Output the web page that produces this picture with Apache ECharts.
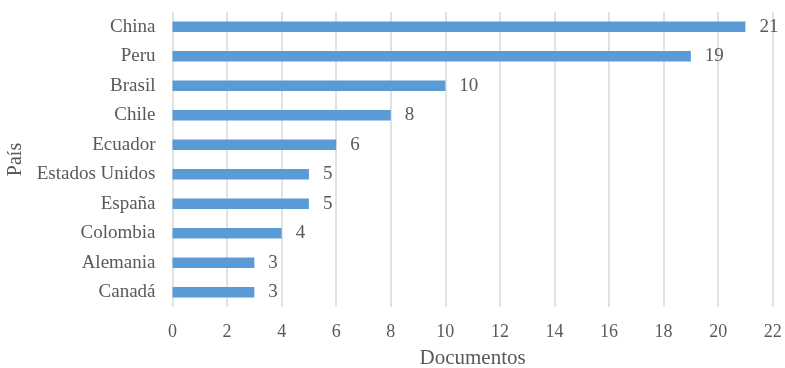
<!DOCTYPE html>
<html>
<head>
<meta charset="utf-8">
<script src="https://cdn.jsdelivr.net/npm/echarts@6/dist/echarts.min.js"></script>
<style>
  html, body { margin: 0; padding: 0; background: #fff; }
  #chart { width: 785px; height: 368px; }
</style>
</head>
<body>
<div id="chart"></div>
<script>
// Countries listed bottom-to-top (ECharts category axis starts at the bottom)
const countries = ['Canadá', 'Alemania', 'Colombia', 'España', 'Estados Unidos', 'Ecuador', 'Chile', 'Brasil', 'Peru', 'China'];
const documentCounts = [3, 3, 4, 5, 5, 6, 8, 10, 19, 21];
const xTicks = { min: 0, max: 22, interval: 2 };

const serif = '"Liberation Serif", "Times New Roman", serif';
const textColor = '#595959';

const chart = echarts.init(document.getElementById('chart'), null, { renderer: 'canvas' });
chart.setOption({
  animation: false,
  grid: {
    left: 172.5, right: 12.3, top: 12, bottom: 61,
    containLabel: false,
    outerBoundsMode: 'none'
  },
  xAxis: {
    type: 'value',
    min: xTicks.min,
    max: xTicks.max,
    interval: xTicks.interval,
    name: 'Documentos',
    nameLocation: 'middle',
    nameGap: 41,
    nameTextStyle: { fontFamily: serif, fontSize: 21, color: textColor },
    axisLine: { show: false },
    axisTick: { show: false },
    axisLabel: { fontFamily: serif, fontSize: 18, color: textColor, margin: 16 },
    splitLine: { show: true, lineStyle: { color: '#d9d9d9', width: 1.5 } }
  },
  yAxis: {
    type: 'category',
    data: countries,
    name: 'País',
    nameLocation: 'middle',
    nameGap: 145.5,
    nameRotate: 90,
    nameTextStyle: { fontFamily: serif, fontSize: 20, color: textColor },
    axisLine: { show: false },
    axisTick: { show: false },
    axisLabel: { fontFamily: serif, fontSize: 19, color: textColor, margin: 17 },
    splitLine: { show: false }
  },
  series: [{
    type: 'bar',
    data: documentCounts,
    barWidth: 10.5,
    itemStyle: { color: '#5b9bd5' },
    label: {
      show: true,
      position: 'right',
      distance: 14,
      fontFamily: serif,
      fontSize: 19,
      color: textColor
    }
  }]
});
</script>
</body>
</html>
